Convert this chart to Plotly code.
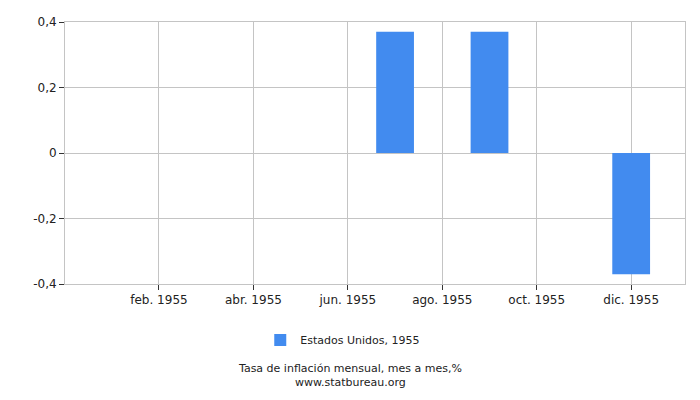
import plotly.graph_objects as go

# monthly inflation, month over month, %
months = ["ene. 1955", "feb. 1955", "mar. 1955", "abr. 1955", "may. 1955", "jun. 1955",
          "jul. 1955", "ago. 1955", "sep. 1955", "oct. 1955", "nov. 1955", "dic. 1955"]
inflation = [0, 0, 0, 0, 0, 0, 0.37, 0, 0.37, 0, 0, -0.37]
x_ticks = ["feb. 1955", "abr. 1955", "jun. 1955", "ago. 1955", "oct. 1955", "dic. 1955"]
y_ticks = [-0.4, -0.2, 0, 0.2, 0.4]
y_labels = ["-0,4", "-0,2", "0", "0,2", "0,4"]

fig = go.Figure()
fig.add_trace(go.Bar(x=months, y=inflation, name="Estados Unidos, 1955",
                     marker=dict(color="#428bef", line=dict(width=0)), width=0.8))

fig.update_layout(
    width=700, height=400,
    margin=dict(l=65, r=15, t=22, b=116),
    paper_bgcolor="white", plot_bgcolor="white",
    font=dict(family="DejaVu Sans", size=12, color="#222222"),
    showlegend=True,
    legend=dict(orientation="h", x=0.448, xanchor="center", y=-0.214, yanchor="middle",
                font=dict(size=11), itemwidth=30),
)
fig.update_xaxes(type="category", categoryorder="array", categoryarray=months,
                 autorange=False, range=[-0.99, 12.14], automargin=False,
                 tickmode="array", tickvals=x_ticks,
                 showgrid=True, gridcolor="#c4c4c4", gridwidth=1,
                 showline=True, linecolor="#c4c4c4", mirror=True,
                 ticks="outside", ticklen=5, tickcolor="#333333",
                 tickfont=dict(size=12))
fig.update_yaxes(autorange=False, range=[-0.4, 0.4], automargin=False, tickmode="array",
                 tickvals=y_ticks, ticktext=y_labels,
                 showgrid=True, gridcolor="#c4c4c4", gridwidth=1,
                 zeroline=True, zerolinecolor="#c4c4c4", zerolinewidth=1,
                 showline=True, linecolor="#c4c4c4", mirror=True,
                 ticks="outside", ticklen=5, tickcolor="#333333",
                 tickfont=dict(size=12))

# footer text is centred on the whole figure, not on the plot area
fig.add_annotation(text="Tasa de inflación mensual, mes a mes,%", xref="paper", yref="paper",
                   x=0.46, y=-0.324, xanchor="center", yanchor="middle",
                   showarrow=False, font=dict(size=11))
fig.add_annotation(text="www.statbureau.org", xref="paper", yref="paper",
                   x=0.46, y=-0.376, xanchor="center", yanchor="middle",
                   showarrow=False, font=dict(size=11))

# page body has a default margin; drop it so the 700x400 figure fills the window
fig.write_html("out.html", config={"displayModeBar": False},
               post_script="document.body.style.margin='0';")
